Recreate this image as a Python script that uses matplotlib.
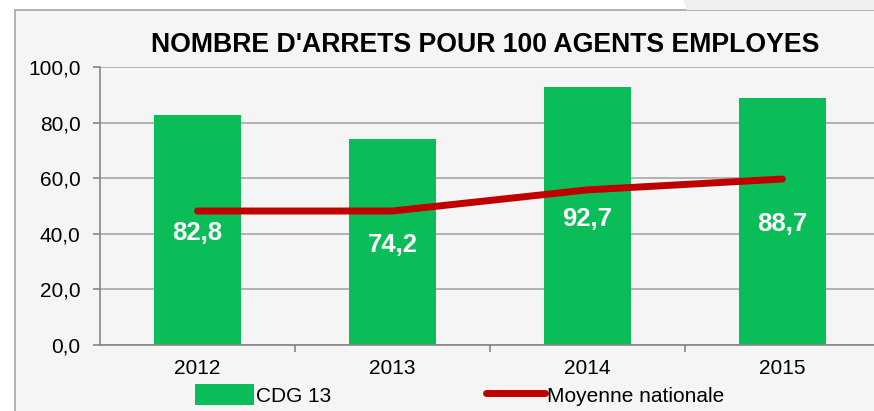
import matplotlib
matplotlib.use('Agg')
import matplotlib.pyplot as plt
from matplotlib.patches import Rectangle, Polygon, Patch
from matplotlib.lines import Line2D

plt.rcParams.update({'font.family': ['Liberation Sans', 'DejaVu Sans']})

years = ['2012', '2013', '2014', '2015']
cdg13 = [82.8, 74.2, 92.7, 88.7]
moyenne = [48.2, 48.2, 55.8, 59.7]
yticks = [0, 20, 40, 60, 80, 100]

green = '#0abd59'
red = '#c00000'
grey = '#a6a6a6'

W, H = 874, 411
fig = plt.figure(figsize=(W/100, H/100), dpi=100, facecolor='white')

# chart frame
fig.patches.append(Rectangle((15/W, -0.05), 1.0, 1 - 10/H + 0.05, transform=fig.transFigure,
                             facecolor='#f5f5f5', edgecolor=grey, lw=1.2, zorder=-2))
fig.patches.append(Polygon([(683/W, 1), (1, 1), (1, 1 - 10/H), (687/W, 1 - 10/H)],
                           closed=True, transform=fig.transFigure,
                           facecolor='#efeff1', edgecolor='none', zorder=-2))

ax = fig.add_axes([100/W, 1 - 345/H, 780/W, 278/H])
ax.set_facecolor('none')
x = range(len(years))
ax.bar(x, cdg13, width=0.446, color=green, zorder=2)
ax.plot(x, moyenne, color=red, lw=5, solid_capstyle='round', solid_joinstyle='round', zorder=3)
for i, v in enumerate(cdg13):
    ax.text(i, v/2 - 1, f'{v:.1f}'.replace('.', ','), ha='center', va='center',
            color='white', fontsize=18.5, fontweight='bold', zorder=4)

ax.set_xlim(-0.5, 3.5)
ax.set_ylim(0, 100)
ax.set_yticks(yticks)
ax.set_yticklabels([f'{t:.1f}'.replace('.', ',') for t in yticks])
ax.set_xticks(list(x))
ax.set_xticklabels(years)
ax.set_xticks([0.5, 1.5, 2.5], minor=True)
ax.tick_params(axis='x', which='major', length=0, pad=10, labelsize=15)
ax.tick_params(axis='x', which='minor', length=5, width=1.2, color='#868686')
ax.tick_params(axis='y', length=5, width=1.2, color='#868686', pad=9, labelsize=15)
ax.grid(axis='y', color=grey, lw=1.2, zorder=1)
ax.set_axisbelow(True)
for s in ['top', 'right']:
    ax.spines[s].set_visible(False)
for s in ['left', 'bottom']:
    ax.spines[s].set_color('#868686')
    ax.spines[s].set_linewidth(1.2)

fig.text(485/W, 1 - 45.5/H, "NOMBRE D'ARRETS POUR 100 AGENTS EMPLOYES", ha='center', va='center',
         fontsize=19.2, fontweight='bold')

handles = [Patch(facecolor=green, edgecolor='none', label='CDG 13'),
           Line2D([0], [0], color=red, lw=5, solid_capstyle='round', label='Moyenne nationale')]
fig.legend(handles=handles, loc='center left', bbox_to_anchor=(195/W, 1 - 395/H), ncol=2,
           frameon=False, fontsize=15, handlelength=2.85, handleheight=1.15, handletextpad=0.1,
           columnspacing=7.4, borderpad=0, borderaxespad=0)

fig.savefig('out.png', dpi=100, facecolor='white')
